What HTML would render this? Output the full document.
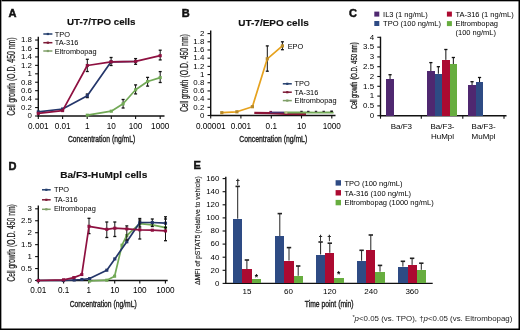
<!DOCTYPE html><html><head><meta charset="utf-8"><style>html,body{margin:0;padding:0;background:#fff;}svg{display:block;will-change:transform;}</style></head><body>
<svg width="520" height="330" viewBox="0 0 520 330" font-family='"Liberation Sans", sans-serif'>
<rect x="0" y="0" width="520" height="330" fill="#fff"/>
<g>
<text x="8.5" y="16.9" font-size="11" font-weight="bold" fill="#111" stroke="#111" stroke-width="0.5">A</text>
<text x="67" y="25.3" font-size="9.8" font-weight="bold" textLength="68.5" lengthAdjust="spacingAndGlyphs" fill="#111" stroke="#111" stroke-width="0.15">UT-7/TPO cells</text>
<line x1="43.3" y1="34" x2="52.4" y2="34" stroke="#243f6e" stroke-width="1.5"/>
<rect x="46.75" y="32.9" width="2.2" height="2.2" fill="#243f6e"/>
<text x="54.7" y="36.6" font-size="7.4" >TPO</text>
<line x1="43.3" y1="42.7" x2="52.4" y2="42.7" stroke="#7d1a36" stroke-width="1.5"/>
<rect x="46.75" y="41.6" width="2.2" height="2.2" fill="#7d1a36"/>
<text x="54.7" y="45.3" font-size="7.4" >TA-316</text>
<line x1="43.3" y1="51" x2="52.4" y2="51" stroke="#7f9f68" stroke-width="1.5"/>
<rect x="46.75" y="49.9" width="2.2" height="2.2" fill="#7f9f68"/>
<text x="54.7" y="53.6" font-size="7.4" >Eltrombopag</text>
<line x1="38.3" y1="36.84" x2="38.3" y2="116.6" stroke="#111" stroke-width="1.4"/>
<line x1="35.1" y1="116" x2="38.3" y2="116" stroke="#111" stroke-width="1.1"/>
<text x="31.9" y="118.3" font-size="7.9" text-anchor="end" >0</text>
<line x1="35.1" y1="107.56" x2="38.3" y2="107.56" stroke="#111" stroke-width="1.1"/>
<text x="31.9" y="109.86" font-size="7.9" text-anchor="end" >0.2</text>
<line x1="35.1" y1="99.12" x2="38.3" y2="99.12" stroke="#111" stroke-width="1.1"/>
<text x="31.9" y="101.42" font-size="7.9" text-anchor="end" >0.4</text>
<line x1="35.1" y1="90.68" x2="38.3" y2="90.68" stroke="#111" stroke-width="1.1"/>
<text x="31.9" y="92.98" font-size="7.9" text-anchor="end" >0.6</text>
<line x1="35.1" y1="82.24" x2="38.3" y2="82.24" stroke="#111" stroke-width="1.1"/>
<text x="31.9" y="84.54" font-size="7.9" text-anchor="end" >0.8</text>
<line x1="35.1" y1="73.8" x2="38.3" y2="73.8" stroke="#111" stroke-width="1.1"/>
<text x="31.9" y="76.1" font-size="7.9" text-anchor="end" >1</text>
<line x1="35.1" y1="65.36" x2="38.3" y2="65.36" stroke="#111" stroke-width="1.1"/>
<text x="31.9" y="67.66" font-size="7.9" text-anchor="end" >1.2</text>
<line x1="35.1" y1="56.92" x2="38.3" y2="56.92" stroke="#111" stroke-width="1.1"/>
<text x="31.9" y="59.22" font-size="7.9" text-anchor="end" >1.4</text>
<line x1="35.1" y1="48.48" x2="38.3" y2="48.48" stroke="#111" stroke-width="1.1"/>
<text x="31.9" y="50.78" font-size="7.9" text-anchor="end" >1.6</text>
<line x1="35.1" y1="40.04" x2="38.3" y2="40.04" stroke="#111" stroke-width="1.1"/>
<text x="31.9" y="42.34" font-size="7.9" text-anchor="end" >1.8</text>
<line x1="37.6" y1="116" x2="164.5" y2="116" stroke="#111" stroke-width="1.4"/>
<line x1="38.3" y1="116" x2="38.3" y2="119" stroke="#111" stroke-width="1.1"/>
<line x1="62.6" y1="116" x2="62.6" y2="119" stroke="#111" stroke-width="1.1"/>
<line x1="87.2" y1="116" x2="87.2" y2="119" stroke="#111" stroke-width="1.1"/>
<line x1="111.3" y1="116" x2="111.3" y2="119" stroke="#111" stroke-width="1.1"/>
<line x1="135.6" y1="116" x2="135.6" y2="119" stroke="#111" stroke-width="1.1"/>
<line x1="160.2" y1="116" x2="160.2" y2="119" stroke="#111" stroke-width="1.1"/>
<text x="38.3" y="129" font-size="8.2" text-anchor="middle" >0.001</text>
<text x="62.6" y="129" font-size="8.2" text-anchor="middle" >0.01</text>
<text x="87.2" y="129" font-size="8.2" text-anchor="middle" >1</text>
<text x="111.3" y="129" font-size="8.2" text-anchor="middle" >10</text>
<text x="135.6" y="129" font-size="8.2" text-anchor="middle" >100</text>
<text x="160.2" y="129" font-size="8.2" text-anchor="middle" >1000</text>
<text x="67.9" y="142" font-size="9.8" textLength="67.3" lengthAdjust="spacingAndGlyphs" fill="#222" stroke="#222" stroke-width="0.38">Concentration (ng/mL)</text>
<text transform="translate(15.2,99.35) rotate(-90)" x="0" y="0" font-size="10.2" text-anchor="middle" textLength="32.1" lengthAdjust="spacingAndGlyphs" fill="#222" stroke="#222" stroke-width="0.25">Cell growth</text>
<text transform="translate(15.2,59.2) rotate(-90)" x="0" y="0" font-size="10.2" text-anchor="middle" textLength="43.6" lengthAdjust="spacingAndGlyphs" fill="#222" stroke="#222" stroke-width="0.25">(O.D. 450 nm)</text>
<line x1="123.1" y1="99.5" x2="123.1" y2="108" stroke="#111" stroke-width="1.0"/>
<line x1="121.6" y1="99.5" x2="124.6" y2="99.5" stroke="#111" stroke-width="1.3"/>
<line x1="121.6" y1="108" x2="124.6" y2="108" stroke="#111" stroke-width="1.3"/>
<line x1="135.6" y1="84.9" x2="135.6" y2="93.9" stroke="#111" stroke-width="1.0"/>
<line x1="134.1" y1="84.9" x2="137.1" y2="84.9" stroke="#111" stroke-width="1.3"/>
<line x1="134.1" y1="93.9" x2="137.1" y2="93.9" stroke="#111" stroke-width="1.3"/>
<line x1="147.6" y1="77.4" x2="147.6" y2="86.1" stroke="#111" stroke-width="1.0"/>
<line x1="146.1" y1="77.4" x2="149.1" y2="77.4" stroke="#111" stroke-width="1.3"/>
<line x1="146.1" y1="86.1" x2="149.1" y2="86.1" stroke="#111" stroke-width="1.3"/>
<line x1="160.2" y1="71.6" x2="160.2" y2="82.5" stroke="#111" stroke-width="1.0"/>
<line x1="158.7" y1="71.6" x2="161.7" y2="71.6" stroke="#111" stroke-width="1.3"/>
<line x1="158.7" y1="82.5" x2="161.7" y2="82.5" stroke="#111" stroke-width="1.3"/>
<polyline points="87.3,115.2 111.3,111.2 123.1,103.8 135.6,89.8 147.6,81.5 160.2,77.6" fill="none" stroke="#72a956" stroke-width="1.7" stroke-linejoin="round"/>
<rect x="85.75" y="113.65" width="3.1" height="3.1" fill="#72a956"/>
<rect x="109.75" y="109.65" width="3.1" height="3.1" fill="#72a956"/>
<rect x="121.55" y="102.25" width="3.1" height="3.1" fill="#72a956"/>
<rect x="134.05" y="88.25" width="3.1" height="3.1" fill="#72a956"/>
<rect x="146.05" y="79.95" width="3.1" height="3.1" fill="#72a956"/>
<rect x="158.65" y="76.05" width="3.1" height="3.1" fill="#72a956"/>
<line x1="87.3" y1="94" x2="87.3" y2="97.6" stroke="#111" stroke-width="1.0"/>
<line x1="85.8" y1="94" x2="88.8" y2="94" stroke="#111" stroke-width="1.3"/>
<line x1="85.8" y1="97.6" x2="88.8" y2="97.6" stroke="#111" stroke-width="1.3"/>
<polyline points="38.3,111.9 62.6,109 87.3,95.8 111.1,61.8 135.6,61.5" fill="none" stroke="#24366a" stroke-width="1.7" stroke-linejoin="round"/>
<rect x="36.75" y="110.35" width="3.1" height="3.1" fill="#24366a"/>
<rect x="61.05" y="107.45" width="3.1" height="3.1" fill="#24366a"/>
<rect x="85.75" y="94.25" width="3.1" height="3.1" fill="#24366a"/>
<rect x="109.55" y="60.25" width="3.1" height="3.1" fill="#24366a"/>
<rect x="134.05" y="59.95" width="3.1" height="3.1" fill="#24366a"/>
<line x1="87.3" y1="59.3" x2="87.3" y2="71.5" stroke="#111" stroke-width="1.0"/>
<line x1="85.8" y1="59.3" x2="88.8" y2="59.3" stroke="#111" stroke-width="1.3"/>
<line x1="85.8" y1="71.5" x2="88.8" y2="71.5" stroke="#111" stroke-width="1.3"/>
<line x1="111.1" y1="57.5" x2="111.1" y2="65.5" stroke="#111" stroke-width="1.0"/>
<line x1="109.6" y1="57.5" x2="112.6" y2="57.5" stroke="#111" stroke-width="1.3"/>
<line x1="109.6" y1="65.5" x2="112.6" y2="65.5" stroke="#111" stroke-width="1.3"/>
<line x1="135.6" y1="58.6" x2="135.6" y2="64.3" stroke="#111" stroke-width="1.0"/>
<line x1="134.1" y1="58.6" x2="137.1" y2="58.6" stroke="#111" stroke-width="1.3"/>
<line x1="134.1" y1="64.3" x2="137.1" y2="64.3" stroke="#111" stroke-width="1.3"/>
<line x1="160.2" y1="50.2" x2="160.2" y2="59.9" stroke="#111" stroke-width="1.0"/>
<line x1="158.7" y1="50.2" x2="161.7" y2="50.2" stroke="#111" stroke-width="1.3"/>
<line x1="158.7" y1="59.9" x2="161.7" y2="59.9" stroke="#111" stroke-width="1.3"/>
<polyline points="38.3,113.4 62.6,110.6 87.3,65.5 111.1,61.8 135.6,61.4 160.2,55.7" fill="none" stroke="#8e1040" stroke-width="1.7" stroke-linejoin="round"/>
<rect x="36.75" y="111.85" width="3.1" height="3.1" fill="#8e1040"/>
<rect x="61.05" y="109.05" width="3.1" height="3.1" fill="#8e1040"/>
<rect x="85.75" y="63.95" width="3.1" height="3.1" fill="#8e1040"/>
<rect x="109.55" y="60.25" width="3.1" height="3.1" fill="#8e1040"/>
<rect x="134.05" y="59.85" width="3.1" height="3.1" fill="#8e1040"/>
<rect x="158.65" y="54.15" width="3.1" height="3.1" fill="#8e1040"/>
<text x="181.7" y="16.9" font-size="11" font-weight="bold" fill="#111" stroke="#111" stroke-width="0.5">B</text>
<text x="238.3" y="25.6" font-size="9.8" font-weight="bold" textLength="70.4" lengthAdjust="spacingAndGlyphs" fill="#111" stroke="#111" stroke-width="0.15">UT-7/EPO cells</text>
<line x1="210.7" y1="30.4" x2="210.7" y2="116.1" stroke="#111" stroke-width="1.4"/>
<line x1="207.5" y1="115.5" x2="210.7" y2="115.5" stroke="#111" stroke-width="1.1"/>
<text x="204.3" y="117.8" font-size="7.9" text-anchor="end" >0</text>
<line x1="207.5" y1="107.31" x2="210.7" y2="107.31" stroke="#111" stroke-width="1.1"/>
<text x="204.3" y="109.61" font-size="7.9" text-anchor="end" >0.2</text>
<line x1="207.5" y1="99.12" x2="210.7" y2="99.12" stroke="#111" stroke-width="1.1"/>
<text x="204.3" y="101.42" font-size="7.9" text-anchor="end" >0.4</text>
<line x1="207.5" y1="90.93" x2="210.7" y2="90.93" stroke="#111" stroke-width="1.1"/>
<text x="204.3" y="93.23" font-size="7.9" text-anchor="end" >0.6</text>
<line x1="207.5" y1="82.74" x2="210.7" y2="82.74" stroke="#111" stroke-width="1.1"/>
<text x="204.3" y="85.04" font-size="7.9" text-anchor="end" >0.8</text>
<line x1="207.5" y1="74.55" x2="210.7" y2="74.55" stroke="#111" stroke-width="1.1"/>
<text x="204.3" y="76.85" font-size="7.9" text-anchor="end" >1</text>
<line x1="207.5" y1="66.36" x2="210.7" y2="66.36" stroke="#111" stroke-width="1.1"/>
<text x="204.3" y="68.66" font-size="7.9" text-anchor="end" >1.2</text>
<line x1="207.5" y1="58.17" x2="210.7" y2="58.17" stroke="#111" stroke-width="1.1"/>
<text x="204.3" y="60.47" font-size="7.9" text-anchor="end" >1.4</text>
<line x1="207.5" y1="49.98" x2="210.7" y2="49.98" stroke="#111" stroke-width="1.1"/>
<text x="204.3" y="52.28" font-size="7.9" text-anchor="end" >1.6</text>
<line x1="207.5" y1="41.79" x2="210.7" y2="41.79" stroke="#111" stroke-width="1.1"/>
<text x="204.3" y="44.09" font-size="7.9" text-anchor="end" >1.8</text>
<line x1="207.5" y1="33.6" x2="210.7" y2="33.6" stroke="#111" stroke-width="1.1"/>
<text x="204.3" y="35.9" font-size="7.9" text-anchor="end" >2</text>
<line x1="210" y1="115.5" x2="335.5" y2="115.5" stroke="#111" stroke-width="1.4"/>
<line x1="210.7" y1="115.5" x2="210.7" y2="118.5" stroke="#111" stroke-width="1.1"/>
<line x1="240.9" y1="115.5" x2="240.9" y2="118.5" stroke="#111" stroke-width="1.1"/>
<line x1="271.3" y1="115.5" x2="271.3" y2="118.5" stroke="#111" stroke-width="1.1"/>
<line x1="301.5" y1="115.5" x2="301.5" y2="118.5" stroke="#111" stroke-width="1.1"/>
<line x1="331.8" y1="115.5" x2="331.8" y2="118.5" stroke="#111" stroke-width="1.1"/>
<text x="210.7" y="129" font-size="8.2" text-anchor="middle" >0.00001</text>
<text x="240.9" y="129" font-size="8.2" text-anchor="middle" >0.001</text>
<text x="271.3" y="129" font-size="8.2" text-anchor="middle" >0.1</text>
<text x="301.5" y="129" font-size="8.2" text-anchor="middle" >10</text>
<text x="331.8" y="129" font-size="8.2" text-anchor="middle" >1000</text>
<text x="239.2" y="142" font-size="9.8" textLength="68" lengthAdjust="spacingAndGlyphs" fill="#222" stroke="#222" stroke-width="0.38">Concentration (ng/mL)</text>
<text transform="translate(187.9,95.8) rotate(-90)" x="0" y="0" font-size="10.2" text-anchor="middle" textLength="32" lengthAdjust="spacingAndGlyphs" fill="#222" stroke="#222" stroke-width="0.25">Cell growth</text>
<text transform="translate(187.9,55.85) rotate(-90)" x="0" y="0" font-size="10.2" text-anchor="middle" textLength="43.5" lengthAdjust="spacingAndGlyphs" fill="#222" stroke="#222" stroke-width="0.25">(O.D. 450 nm)</text>
<line x1="282.8" y1="83.8" x2="291.8" y2="83.8" stroke="#243f6e" stroke-width="1.5"/>
<rect x="286.2" y="82.7" width="2.2" height="2.2" fill="#243f6e"/>
<text x="294.6" y="86.4" font-size="7.4" >TPO</text>
<line x1="282.8" y1="92.2" x2="291.8" y2="92.2" stroke="#7d1a36" stroke-width="1.5"/>
<rect x="286.2" y="91.1" width="2.2" height="2.2" fill="#7d1a36"/>
<text x="294.6" y="94.8" font-size="7.4" >TA-316</text>
<line x1="282.8" y1="100.6" x2="291.8" y2="100.6" stroke="#7f9f68" stroke-width="1.5"/>
<rect x="286.2" y="99.5" width="2.2" height="2.2" fill="#7f9f68"/>
<text x="294.6" y="103.2" font-size="7.4" >Eltrombopag</text>
<text x="287.7" y="48.5" font-size="7.4" >EPO</text>
<polyline points="254.3,112.9 270.7,113.2 286,113.8 306,114.2" fill="none" stroke="#8c1538" stroke-width="2.2" stroke-linejoin="round"/>
<rect x="269.4" y="110.9" width="2.6" height="2.6" fill="#8e1040"/>
<polyline points="270,112.4 284,112.4" fill="none" stroke="#4a3270" stroke-width="1.6" stroke-linejoin="round"/>
<polyline points="284,112.5 301.5,112.5 308.3,112.5 316,112.6 323.7,112.5 331.3,112.5 333.6,112.6" fill="none" stroke="#72a956" stroke-width="1.8" stroke-linejoin="round"/>
<rect x="285.2" y="111.5" width="2.2" height="2.2" fill="#c8c090"/>
<line x1="300.3" y1="111.4" x2="302.7" y2="111.4" stroke="#333" stroke-width="1.3"/>
<line x1="307.1" y1="111.4" x2="309.5" y2="111.4" stroke="#333" stroke-width="1.3"/>
<line x1="314.8" y1="111.4" x2="317.2" y2="111.4" stroke="#333" stroke-width="1.3"/>
<line x1="322.5" y1="111.4" x2="324.9" y2="111.4" stroke="#333" stroke-width="1.3"/>
<line x1="330.3" y1="111.3" x2="332.9" y2="111.3" stroke="#111" stroke-width="1.6"/>
<line x1="267.3" y1="45.9" x2="267.3" y2="71.2" stroke="#111" stroke-width="1.0"/>
<line x1="265.8" y1="45.9" x2="268.8" y2="45.9" stroke="#111" stroke-width="1.3"/>
<line x1="265.8" y1="71.2" x2="268.8" y2="71.2" stroke="#111" stroke-width="1.3"/>
<line x1="282.4" y1="41.8" x2="282.4" y2="49.7" stroke="#111" stroke-width="1.0"/>
<line x1="280.9" y1="41.8" x2="283.9" y2="41.8" stroke="#111" stroke-width="1.3"/>
<line x1="280.9" y1="49.7" x2="283.9" y2="49.7" stroke="#111" stroke-width="1.3"/>
<polyline points="221.8,112.7 236.9,111.8 252.4,106.7 267.3,58.8 282.4,45.9" fill="none" stroke="#e6a21e" stroke-width="1.7" stroke-linejoin="round"/>
<rect x="220.2" y="111.1" width="3.2" height="3.2" fill="#b88a2a"/>
<rect x="235.3" y="110.2" width="3.2" height="3.2" fill="#b88a2a"/>
<rect x="250.8" y="105.1" width="3.2" height="3.2" fill="#b88a2a"/>
<rect x="265.7" y="57.2" width="3.2" height="3.2" fill="#b88a2a"/>
<rect x="280.8" y="44.3" width="3.2" height="3.2" fill="#b88a2a"/>
<text x="348.9" y="17.2" font-size="11" font-weight="bold" fill="#111" stroke="#111" stroke-width="0.5">C</text>
<rect x="374.3" y="11.6" width="5" height="5" fill="#4f2870"/>
<text x="383.1" y="16.6" font-size="7.5" >IL3 (1 ng/mL)</text>
<rect x="374.3" y="21" width="5" height="5" fill="#2e4b84"/>
<text x="383.1" y="26" font-size="7.5" >TPO (100 ng/mL)</text>
<rect x="446.9" y="11.6" width="5" height="5" fill="#ac0a31"/>
<text x="455.5" y="16.6" font-size="7.5" >TA-316 (1 ng/mL)</text>
<rect x="446.9" y="21.1" width="5" height="5" fill="#67ad3f"/>
<text x="455.5" y="26.1" font-size="7.5" >Eltrombopag</text>
<text x="455.5" y="34.8" font-size="7.5" >(100 ng/mL)</text>
<line x1="380.5" y1="36.7" x2="380.5" y2="116.3" stroke="#111" stroke-width="1.4"/>
<line x1="377.3" y1="115.7" x2="380.5" y2="115.7" stroke="#111" stroke-width="1.1"/>
<text x="374.1" y="118" font-size="7.9" text-anchor="end" >0</text>
<line x1="377.3" y1="105.9" x2="380.5" y2="105.9" stroke="#111" stroke-width="1.1"/>
<text x="374.1" y="108.2" font-size="7.9" text-anchor="end" >0.5</text>
<line x1="377.3" y1="96.1" x2="380.5" y2="96.1" stroke="#111" stroke-width="1.1"/>
<text x="374.1" y="98.4" font-size="7.9" text-anchor="end" >1</text>
<line x1="377.3" y1="86.3" x2="380.5" y2="86.3" stroke="#111" stroke-width="1.1"/>
<text x="374.1" y="88.6" font-size="7.9" text-anchor="end" >1.5</text>
<line x1="377.3" y1="76.5" x2="380.5" y2="76.5" stroke="#111" stroke-width="1.1"/>
<text x="374.1" y="78.8" font-size="7.9" text-anchor="end" >2</text>
<line x1="377.3" y1="66.7" x2="380.5" y2="66.7" stroke="#111" stroke-width="1.1"/>
<text x="374.1" y="69" font-size="7.9" text-anchor="end" >2.5</text>
<line x1="377.3" y1="56.9" x2="380.5" y2="56.9" stroke="#111" stroke-width="1.1"/>
<text x="374.1" y="59.2" font-size="7.9" text-anchor="end" >3</text>
<line x1="377.3" y1="47.1" x2="380.5" y2="47.1" stroke="#111" stroke-width="1.1"/>
<text x="374.1" y="49.4" font-size="7.9" text-anchor="end" >3.5</text>
<line x1="377.3" y1="37.3" x2="380.5" y2="37.3" stroke="#111" stroke-width="1.1"/>
<text x="374.1" y="39.6" font-size="7.9" text-anchor="end" >4</text>
<line x1="379.8" y1="115.7" x2="506.5" y2="115.7" stroke="#111" stroke-width="1.4"/>
<line x1="421.3" y1="115.7" x2="421.3" y2="118.7" stroke="#111" stroke-width="1.1"/>
<line x1="462.8" y1="115.7" x2="462.8" y2="118.7" stroke="#111" stroke-width="1.1"/>
<line x1="504" y1="115.7" x2="504" y2="118.7" stroke="#111" stroke-width="1.1"/>
<line x1="380.5" y1="115.7" x2="380.5" y2="118.7" stroke="#111" stroke-width="1.1"/>
<text x="401.4" y="128.9" font-size="8.0" text-anchor="middle" >Ba/F3</text>
<text x="442.5" y="128.9" font-size="8.0" text-anchor="middle" >Ba/F3-</text>
<text x="442.5" y="138.6" font-size="8.0" text-anchor="middle" >HuMpl</text>
<text x="483.6" y="128.9" font-size="8.0" text-anchor="middle" >Ba/F3-</text>
<text x="483.6" y="138.6" font-size="8.0" text-anchor="middle" >MuMpl</text>
<text transform="translate(357.2,95.3) rotate(-90)" x="0" y="0" font-size="8.6" text-anchor="middle" textLength="27.4" lengthAdjust="spacingAndGlyphs" fill="#222" stroke="#222" stroke-width="0.3">Cell growth</text>
<text transform="translate(357.2,60.95) rotate(-90)" x="0" y="0" font-size="8.6" text-anchor="middle" textLength="37.3" lengthAdjust="spacingAndGlyphs" fill="#222" stroke="#222" stroke-width="0.3">(O.D. 450 nm)</text>
<line x1="390.05" y1="74.7" x2="390.05" y2="79.3" stroke="#111" stroke-width="1.0"/>
<line x1="388.45" y1="74.7" x2="391.65" y2="74.7" stroke="#111" stroke-width="1.3"/>
<rect x="386.3" y="79.3" width="7.5" height="36.4" fill="#4f2870" shape-rendering="crispEdges"/>
<line x1="430.85" y1="62.6" x2="430.85" y2="71.4" stroke="#111" stroke-width="1.0"/>
<line x1="429.25" y1="62.6" x2="432.45" y2="62.6" stroke="#111" stroke-width="1.3"/>
<rect x="427.1" y="71.4" width="7.5" height="44.3" fill="#4f2870" shape-rendering="crispEdges"/>
<line x1="438.35" y1="66.7" x2="438.35" y2="73.8" stroke="#111" stroke-width="1.0"/>
<line x1="436.75" y1="66.7" x2="439.95" y2="66.7" stroke="#111" stroke-width="1.3"/>
<rect x="434.6" y="73.8" width="7.5" height="41.9" fill="#2e4b84" shape-rendering="crispEdges"/>
<line x1="445.85" y1="49.5" x2="445.85" y2="59.9" stroke="#111" stroke-width="1.0"/>
<line x1="444.25" y1="49.5" x2="447.45" y2="49.5" stroke="#111" stroke-width="1.3"/>
<rect x="442.1" y="59.9" width="7.5" height="55.8" fill="#ac0a31" shape-rendering="crispEdges"/>
<line x1="453.35" y1="57.5" x2="453.35" y2="64.3" stroke="#111" stroke-width="1.0"/>
<line x1="451.75" y1="57.5" x2="454.95" y2="57.5" stroke="#111" stroke-width="1.3"/>
<rect x="449.6" y="64.3" width="7.5" height="51.4" fill="#67ad3f" shape-rendering="crispEdges"/>
<line x1="472.05" y1="81.7" x2="472.05" y2="85" stroke="#111" stroke-width="1.0"/>
<line x1="470.45" y1="81.7" x2="473.65" y2="81.7" stroke="#111" stroke-width="1.3"/>
<rect x="468.3" y="85" width="7.5" height="30.7" fill="#4f2870" shape-rendering="crispEdges"/>
<line x1="479.55" y1="77.5" x2="479.55" y2="82.2" stroke="#111" stroke-width="1.0"/>
<line x1="477.95" y1="77.5" x2="481.15" y2="77.5" stroke="#111" stroke-width="1.3"/>
<rect x="475.8" y="82.2" width="7.5" height="33.5" fill="#2e4b84" shape-rendering="crispEdges"/>
<text x="8.6" y="169.5" font-size="11" font-weight="bold" fill="#111" stroke="#111" stroke-width="0.5">D</text>
<text x="60.2" y="177.5" font-size="9.8" font-weight="bold" textLength="87.1" lengthAdjust="spacingAndGlyphs" fill="#111" stroke="#111" stroke-width="0.15">Ba/F3-HuMpl cells</text>
<line x1="42" y1="189.8" x2="50.7" y2="189.8" stroke="#243f6e" stroke-width="1.5"/>
<rect x="45.25" y="188.7" width="2.2" height="2.2" fill="#243f6e"/>
<text x="53.9" y="191.8" font-size="7.4" >TPO</text>
<line x1="42" y1="199.8" x2="50.7" y2="199.8" stroke="#7d1a36" stroke-width="1.5"/>
<rect x="45.25" y="198.7" width="2.2" height="2.2" fill="#7d1a36"/>
<text x="53.9" y="201.8" font-size="7.4" >TA-316</text>
<line x1="42" y1="209.3" x2="50.7" y2="209.3" stroke="#7f9f68" stroke-width="1.5"/>
<rect x="45.25" y="208.2" width="2.2" height="2.2" fill="#7f9f68"/>
<text x="53.9" y="211.3" font-size="7.4" >Eltrombopag</text>
<line x1="38.3" y1="205.6" x2="38.3" y2="281.1" stroke="#111" stroke-width="1.4"/>
<line x1="35.1" y1="280.5" x2="38.3" y2="280.5" stroke="#111" stroke-width="1.1"/>
<text x="31.9" y="282.8" font-size="7.9" text-anchor="end" >0</text>
<line x1="35.1" y1="268.55" x2="38.3" y2="268.55" stroke="#111" stroke-width="1.1"/>
<text x="31.9" y="270.85" font-size="7.9" text-anchor="end" >0.5</text>
<line x1="35.1" y1="256.6" x2="38.3" y2="256.6" stroke="#111" stroke-width="1.1"/>
<text x="31.9" y="258.9" font-size="7.9" text-anchor="end" >1</text>
<line x1="35.1" y1="244.65" x2="38.3" y2="244.65" stroke="#111" stroke-width="1.1"/>
<text x="31.9" y="246.95" font-size="7.9" text-anchor="end" >1.5</text>
<line x1="35.1" y1="232.7" x2="38.3" y2="232.7" stroke="#111" stroke-width="1.1"/>
<text x="31.9" y="235" font-size="7.9" text-anchor="end" >2</text>
<line x1="35.1" y1="220.75" x2="38.3" y2="220.75" stroke="#111" stroke-width="1.1"/>
<text x="31.9" y="223.05" font-size="7.9" text-anchor="end" >2.5</text>
<line x1="35.1" y1="208.8" x2="38.3" y2="208.8" stroke="#111" stroke-width="1.1"/>
<text x="31.9" y="211.1" font-size="7.9" text-anchor="end" >3</text>
<line x1="37.6" y1="280.5" x2="167.7" y2="280.5" stroke="#111" stroke-width="1.4"/>
<line x1="38.3" y1="280.5" x2="38.3" y2="283.5" stroke="#111" stroke-width="1.1"/>
<line x1="63.6" y1="280.5" x2="63.6" y2="283.5" stroke="#111" stroke-width="1.1"/>
<line x1="88.7" y1="280.5" x2="88.7" y2="283.5" stroke="#111" stroke-width="1.1"/>
<line x1="114.7" y1="280.5" x2="114.7" y2="283.5" stroke="#111" stroke-width="1.1"/>
<line x1="139.8" y1="280.5" x2="139.8" y2="283.5" stroke="#111" stroke-width="1.1"/>
<line x1="165.4" y1="280.5" x2="165.4" y2="283.5" stroke="#111" stroke-width="1.1"/>
<text x="38.3" y="293" font-size="8.2" text-anchor="middle" >0.01</text>
<text x="63.6" y="293" font-size="8.2" text-anchor="middle" >0.1</text>
<text x="88.7" y="293" font-size="8.2" text-anchor="middle" >1</text>
<text x="114.7" y="293" font-size="8.2" text-anchor="middle" >10</text>
<text x="139.8" y="293" font-size="8.2" text-anchor="middle" >100</text>
<text x="165.4" y="293" font-size="8.2" text-anchor="middle" >1000</text>
<text x="69.7" y="307.2" font-size="9.8" textLength="67" lengthAdjust="spacingAndGlyphs" fill="#222" stroke="#222" stroke-width="0.38">Concentration (ng/mL)</text>
<text transform="translate(15,265.35) rotate(-90)" x="0" y="0" font-size="10.2" text-anchor="middle" textLength="32.1" lengthAdjust="spacingAndGlyphs" fill="#222" stroke="#222" stroke-width="0.25">Cell growth</text>
<text transform="translate(15,225.6) rotate(-90)" x="0" y="0" font-size="10.2" text-anchor="middle" textLength="42.8" lengthAdjust="spacingAndGlyphs" fill="#222" stroke="#222" stroke-width="0.25">(O.D. 450 nm)</text>
<polyline points="89.6,281 106.8,280.2 114.6,276.2 122,245.2 126.8,235.5 139.8,223.6 152.3,224.8 165.5,227.7" fill="none" stroke="#72a956" stroke-width="1.7" stroke-linejoin="round"/>
<rect x="88.05" y="279.45" width="3.1" height="3.1" fill="#72a956"/>
<rect x="105.25" y="278.65" width="3.1" height="3.1" fill="#72a956"/>
<rect x="113.05" y="274.65" width="3.1" height="3.1" fill="#72a956"/>
<rect x="120.45" y="243.65" width="3.1" height="3.1" fill="#72a956"/>
<rect x="125.25" y="233.95" width="3.1" height="3.1" fill="#72a956"/>
<rect x="138.25" y="222.05" width="3.1" height="3.1" fill="#72a956"/>
<rect x="150.75" y="223.25" width="3.1" height="3.1" fill="#72a956"/>
<rect x="163.95" y="226.15" width="3.1" height="3.1" fill="#72a956"/>
<line x1="139.8" y1="218.5" x2="139.8" y2="227" stroke="#111" stroke-width="1.0"/>
<line x1="138.3" y1="218.5" x2="141.3" y2="218.5" stroke="#111" stroke-width="1.3"/>
<line x1="138.3" y1="227" x2="141.3" y2="227" stroke="#111" stroke-width="1.3"/>
<line x1="152.3" y1="219" x2="152.3" y2="226.5" stroke="#111" stroke-width="1.0"/>
<line x1="150.8" y1="219" x2="153.8" y2="219" stroke="#111" stroke-width="1.3"/>
<line x1="150.8" y1="226.5" x2="153.8" y2="226.5" stroke="#111" stroke-width="1.3"/>
<line x1="165.5" y1="219" x2="165.5" y2="227.5" stroke="#111" stroke-width="1.0"/>
<line x1="164" y1="219" x2="167" y2="219" stroke="#111" stroke-width="1.3"/>
<line x1="164" y1="227.5" x2="167" y2="227.5" stroke="#111" stroke-width="1.3"/>
<polyline points="38.3,280.5 63.3,280.5 74.2,280 81.9,279.5 89.6,278.6 106.8,270.2 114.8,258.9 126.8,241.8 139.8,222.5 152.3,222.5 165.5,223.2" fill="none" stroke="#24366a" stroke-width="1.7" stroke-linejoin="round"/>
<rect x="36.75" y="278.95" width="3.1" height="3.1" fill="#24366a"/>
<rect x="61.75" y="278.95" width="3.1" height="3.1" fill="#24366a"/>
<rect x="72.65" y="278.45" width="3.1" height="3.1" fill="#24366a"/>
<rect x="80.35" y="277.95" width="3.1" height="3.1" fill="#24366a"/>
<rect x="88.05" y="277.05" width="3.1" height="3.1" fill="#24366a"/>
<rect x="105.25" y="268.65" width="3.1" height="3.1" fill="#24366a"/>
<rect x="113.25" y="257.35" width="3.1" height="3.1" fill="#24366a"/>
<rect x="125.25" y="240.25" width="3.1" height="3.1" fill="#24366a"/>
<rect x="138.25" y="220.95" width="3.1" height="3.1" fill="#24366a"/>
<rect x="150.75" y="220.95" width="3.1" height="3.1" fill="#24366a"/>
<rect x="163.95" y="221.65" width="3.1" height="3.1" fill="#24366a"/>
<line x1="89" y1="218.3" x2="89" y2="233.6" stroke="#111" stroke-width="1.0"/>
<line x1="87.5" y1="218.3" x2="90.5" y2="218.3" stroke="#111" stroke-width="1.3"/>
<line x1="87.5" y1="233.6" x2="90.5" y2="233.6" stroke="#111" stroke-width="1.3"/>
<line x1="106.8" y1="222" x2="106.8" y2="237.5" stroke="#111" stroke-width="1.0"/>
<line x1="105.3" y1="222" x2="108.3" y2="222" stroke="#111" stroke-width="1.3"/>
<line x1="105.3" y1="237.5" x2="108.3" y2="237.5" stroke="#111" stroke-width="1.3"/>
<line x1="114.8" y1="222" x2="114.8" y2="236.5" stroke="#111" stroke-width="1.0"/>
<line x1="113.3" y1="222" x2="116.3" y2="222" stroke="#111" stroke-width="1.3"/>
<line x1="113.3" y1="236.5" x2="116.3" y2="236.5" stroke="#111" stroke-width="1.3"/>
<line x1="126.8" y1="225.9" x2="126.8" y2="240" stroke="#111" stroke-width="1.0"/>
<line x1="125.3" y1="225.9" x2="128.3" y2="225.9" stroke="#111" stroke-width="1.3"/>
<line x1="125.3" y1="240" x2="128.3" y2="240" stroke="#111" stroke-width="1.3"/>
<line x1="139.8" y1="220" x2="139.8" y2="239" stroke="#111" stroke-width="1.0"/>
<line x1="138.3" y1="220" x2="141.3" y2="220" stroke="#111" stroke-width="1.3"/>
<line x1="138.3" y1="239" x2="141.3" y2="239" stroke="#111" stroke-width="1.3"/>
<line x1="165.5" y1="216.8" x2="165.5" y2="240.7" stroke="#111" stroke-width="1.0"/>
<line x1="164" y1="216.8" x2="167" y2="216.8" stroke="#111" stroke-width="1.3"/>
<line x1="164" y1="240.7" x2="167" y2="240.7" stroke="#111" stroke-width="1.3"/>
<polyline points="38.3,280.5 63.6,279.8 73.8,277.6 81.8,274.5 89,226.3 106.8,229.3 114.8,228.2 126.8,228.9 139.8,229.8 152.3,230.2 165.5,230.9" fill="none" stroke="#8e1040" stroke-width="1.7" stroke-linejoin="round"/>
<rect x="36.75" y="278.95" width="3.1" height="3.1" fill="#8e1040"/>
<rect x="62.05" y="278.25" width="3.1" height="3.1" fill="#8e1040"/>
<rect x="72.25" y="276.05" width="3.1" height="3.1" fill="#8e1040"/>
<rect x="80.25" y="272.95" width="3.1" height="3.1" fill="#8e1040"/>
<rect x="87.45" y="224.75" width="3.1" height="3.1" fill="#8e1040"/>
<rect x="105.25" y="227.75" width="3.1" height="3.1" fill="#8e1040"/>
<rect x="113.25" y="226.65" width="3.1" height="3.1" fill="#8e1040"/>
<rect x="125.25" y="227.35" width="3.1" height="3.1" fill="#8e1040"/>
<rect x="138.25" y="228.25" width="3.1" height="3.1" fill="#8e1040"/>
<rect x="150.75" y="228.65" width="3.1" height="3.1" fill="#8e1040"/>
<rect x="163.95" y="229.35" width="3.1" height="3.1" fill="#8e1040"/>
<text x="193.4" y="169.1" font-size="11" font-weight="bold" fill="#111" stroke="#111" stroke-width="0.5">E</text>
<line x1="225.8" y1="176.8" x2="225.8" y2="284" stroke="#111" stroke-width="1.4"/>
<line x1="222.6" y1="283.4" x2="225.8" y2="283.4" stroke="#111" stroke-width="1.1"/>
<text x="219.4" y="285.7" font-size="7.9" text-anchor="end" >0</text>
<line x1="222.6" y1="270.3" x2="225.8" y2="270.3" stroke="#111" stroke-width="1.1"/>
<text x="219.4" y="272.6" font-size="7.9" text-anchor="end" >20</text>
<line x1="222.6" y1="257.2" x2="225.8" y2="257.2" stroke="#111" stroke-width="1.1"/>
<text x="219.4" y="259.5" font-size="7.9" text-anchor="end" >40</text>
<line x1="222.6" y1="244.1" x2="225.8" y2="244.1" stroke="#111" stroke-width="1.1"/>
<text x="219.4" y="246.4" font-size="7.9" text-anchor="end" >60</text>
<line x1="222.6" y1="231" x2="225.8" y2="231" stroke="#111" stroke-width="1.1"/>
<text x="219.4" y="233.3" font-size="7.9" text-anchor="end" >80</text>
<line x1="222.6" y1="217.9" x2="225.8" y2="217.9" stroke="#111" stroke-width="1.1"/>
<text x="219.4" y="220.2" font-size="7.9" text-anchor="end" >100</text>
<line x1="222.6" y1="204.8" x2="225.8" y2="204.8" stroke="#111" stroke-width="1.1"/>
<text x="219.4" y="207.1" font-size="7.9" text-anchor="end" >120</text>
<line x1="222.6" y1="191.7" x2="225.8" y2="191.7" stroke="#111" stroke-width="1.1"/>
<text x="219.4" y="194" font-size="7.9" text-anchor="end" >140</text>
<line x1="222.6" y1="178.6" x2="225.8" y2="178.6" stroke="#111" stroke-width="1.1"/>
<text x="219.4" y="180.9" font-size="7.9" text-anchor="end" >160</text>
<line x1="225.1" y1="283.4" x2="432.7" y2="283.4" stroke="#111" stroke-width="1.4"/>
<text x="246.9" y="293.7" font-size="8.0" text-anchor="middle" >15</text>
<text x="288.4" y="293.7" font-size="8.0" text-anchor="middle" >60</text>
<text x="329.7" y="293.7" font-size="8.0" text-anchor="middle" >120</text>
<text x="371" y="293.7" font-size="8.0" text-anchor="middle" >240</text>
<text x="412.1" y="293.7" font-size="8.0" text-anchor="middle" >360</text>
<text x="304.8" y="307.4" font-size="9.8" textLength="48.8" lengthAdjust="spacingAndGlyphs" fill="#222" stroke="#222" stroke-width="0.38">Time point (min)</text>
<text transform="translate(199.9,259.9) rotate(-90)" x="0" y="0" font-size="8.0" text-anchor="middle" textLength="50.2" lengthAdjust="spacingAndGlyphs" fill="#222" stroke="#222" stroke-width="0.15">&#916;MFI of pSTAT5</text>
<text transform="translate(199.9,204.9) rotate(-90)" x="0" y="0" font-size="8.0" text-anchor="middle" textLength="57.4" lengthAdjust="spacingAndGlyphs" fill="#222" stroke="#222" stroke-width="0.15">(relative to vehicle)</text>
<rect x="335.6" y="180.2" width="5.4" height="5.4" fill="#2e4b84"/>
<text x="344.5" y="185.7" font-size="7.5" >TPO (100 ng/mL)</text>
<rect x="335.6" y="190.1" width="5.4" height="5.4" fill="#ac0a31"/>
<text x="344.5" y="195.6" font-size="7.5" >TA-316 (100 ng/mL)</text>
<rect x="335.6" y="199.9" width="5.4" height="5.4" fill="#67ad3f"/>
<text x="344.5" y="205.4" font-size="7.5" >Eltrombopag (1000 ng/mL)</text>
<line x1="237.7" y1="186.4" x2="237.7" y2="218.7" stroke="#222" stroke-width="1.0"/>
<line x1="235.5" y1="186.4" x2="239.9" y2="186.4" stroke="#222" stroke-width="1.6"/>
<rect x="233.1" y="218.7" width="9.2" height="64.7" fill="#2e4b84" shape-rendering="crispEdges"/>
<line x1="246.9" y1="260" x2="246.9" y2="269" stroke="#222" stroke-width="1.0"/>
<line x1="244.7" y1="260" x2="249.1" y2="260" stroke="#222" stroke-width="1.6"/>
<rect x="242.3" y="269" width="9.2" height="14.4" fill="#ac0a31" shape-rendering="crispEdges"/>
<rect x="251.5" y="279.4" width="9.2" height="4" fill="#67ad3f" shape-rendering="crispEdges"/>
<line x1="279.8" y1="213.6" x2="279.8" y2="236.4" stroke="#222" stroke-width="1.0"/>
<line x1="277.6" y1="213.6" x2="282" y2="213.6" stroke="#222" stroke-width="1.6"/>
<rect x="275.2" y="236.4" width="9.2" height="47" fill="#2e4b84" shape-rendering="crispEdges"/>
<line x1="289" y1="247.6" x2="289" y2="260.6" stroke="#222" stroke-width="1.0"/>
<line x1="286.8" y1="247.6" x2="291.2" y2="247.6" stroke="#222" stroke-width="1.6"/>
<rect x="284.4" y="260.6" width="9.2" height="22.8" fill="#ac0a31" shape-rendering="crispEdges"/>
<line x1="298.2" y1="266" x2="298.2" y2="275.8" stroke="#222" stroke-width="1.0"/>
<line x1="296" y1="266" x2="300.4" y2="266" stroke="#222" stroke-width="1.6"/>
<rect x="293.6" y="275.8" width="9.2" height="7.6" fill="#67ad3f" shape-rendering="crispEdges"/>
<line x1="320.6" y1="242" x2="320.6" y2="254.5" stroke="#222" stroke-width="1.0"/>
<line x1="318.4" y1="242" x2="322.8" y2="242" stroke="#222" stroke-width="1.6"/>
<rect x="316" y="254.5" width="9.2" height="28.9" fill="#2e4b84" shape-rendering="crispEdges"/>
<line x1="329.8" y1="243.2" x2="329.8" y2="252.8" stroke="#222" stroke-width="1.0"/>
<line x1="327.6" y1="243.2" x2="332" y2="243.2" stroke="#222" stroke-width="1.6"/>
<rect x="325.2" y="252.8" width="9.2" height="30.6" fill="#ac0a31" shape-rendering="crispEdges"/>
<rect x="334.4" y="278.2" width="9.2" height="5.2" fill="#67ad3f" shape-rendering="crispEdges"/>
<line x1="361.6" y1="250.3" x2="361.6" y2="260.8" stroke="#222" stroke-width="1.0"/>
<line x1="359.4" y1="250.3" x2="363.8" y2="250.3" stroke="#222" stroke-width="1.6"/>
<rect x="357" y="260.8" width="9.2" height="22.6" fill="#2e4b84" shape-rendering="crispEdges"/>
<line x1="370.8" y1="235" x2="370.8" y2="250.3" stroke="#222" stroke-width="1.0"/>
<line x1="368.6" y1="235" x2="373" y2="235" stroke="#222" stroke-width="1.6"/>
<rect x="366.2" y="250.3" width="9.2" height="33.1" fill="#ac0a31" shape-rendering="crispEdges"/>
<line x1="380" y1="265.4" x2="380" y2="271.7" stroke="#222" stroke-width="1.0"/>
<line x1="377.8" y1="265.4" x2="382.2" y2="265.4" stroke="#222" stroke-width="1.6"/>
<rect x="375.4" y="271.7" width="9.2" height="11.7" fill="#67ad3f" shape-rendering="crispEdges"/>
<line x1="402.9" y1="261.3" x2="402.9" y2="266.6" stroke="#222" stroke-width="1.0"/>
<line x1="400.7" y1="261.3" x2="405.1" y2="261.3" stroke="#222" stroke-width="1.6"/>
<rect x="398.3" y="266.6" width="9.2" height="16.8" fill="#2e4b84" shape-rendering="crispEdges"/>
<line x1="412.1" y1="258.3" x2="412.1" y2="264.9" stroke="#222" stroke-width="1.0"/>
<line x1="409.9" y1="258.3" x2="414.3" y2="258.3" stroke="#222" stroke-width="1.6"/>
<rect x="407.5" y="264.9" width="9.2" height="18.5" fill="#ac0a31" shape-rendering="crispEdges"/>
<line x1="421.3" y1="263.2" x2="421.3" y2="269.8" stroke="#222" stroke-width="1.0"/>
<line x1="419.1" y1="263.2" x2="423.5" y2="263.2" stroke="#222" stroke-width="1.6"/>
<rect x="416.7" y="269.8" width="9.2" height="13.6" fill="#67ad3f" shape-rendering="crispEdges"/>
<text x="237.8" y="183.6" font-size="6.5" text-anchor="middle" stroke="#222" stroke-width="0.4">&#8224;</text>
<text x="320.6" y="239.8" font-size="6.5" text-anchor="middle" stroke="#222" stroke-width="0.4">&#8224;</text>
<text x="329.4" y="240.4" font-size="6.5" text-anchor="middle" stroke="#222" stroke-width="0.4">&#8224;</text>
<text x="256.4" y="280.2" font-size="8.5" text-anchor="middle" font-weight="bold" >*</text>
<text x="338.7" y="277.4" font-size="8.5" text-anchor="middle" font-weight="bold" >*</text>
<text x="352.4" y="320.9" font-size="7.6" fill="#222" textLength="160" lengthAdjust="spacingAndGlyphs"><tspan font-size="5.5" dy="-2">*</tspan><tspan font-style="italic" dy="2">p</tspan>&lt;0.05 (vs. TPO), &#8224;<tspan font-style="italic">p</tspan>&lt;0.05 (vs. Eltrombopag)</text>
</g>
<rect x="0" y="0" width="520" height="1" fill="#000"/>
<rect x="0" y="1" width="520" height="0.6" fill="#777"/>
<rect x="0" y="0" width="1.2" height="330" fill="#000"/>
<rect x="1.2" y="0" width="0.6" height="330" fill="#888"/>
<rect x="518.5" y="0" width="1.5" height="330" fill="#000"/>
<rect x="0" y="328.5" width="520" height="1.5" fill="#000"/>
</svg></body></html>
